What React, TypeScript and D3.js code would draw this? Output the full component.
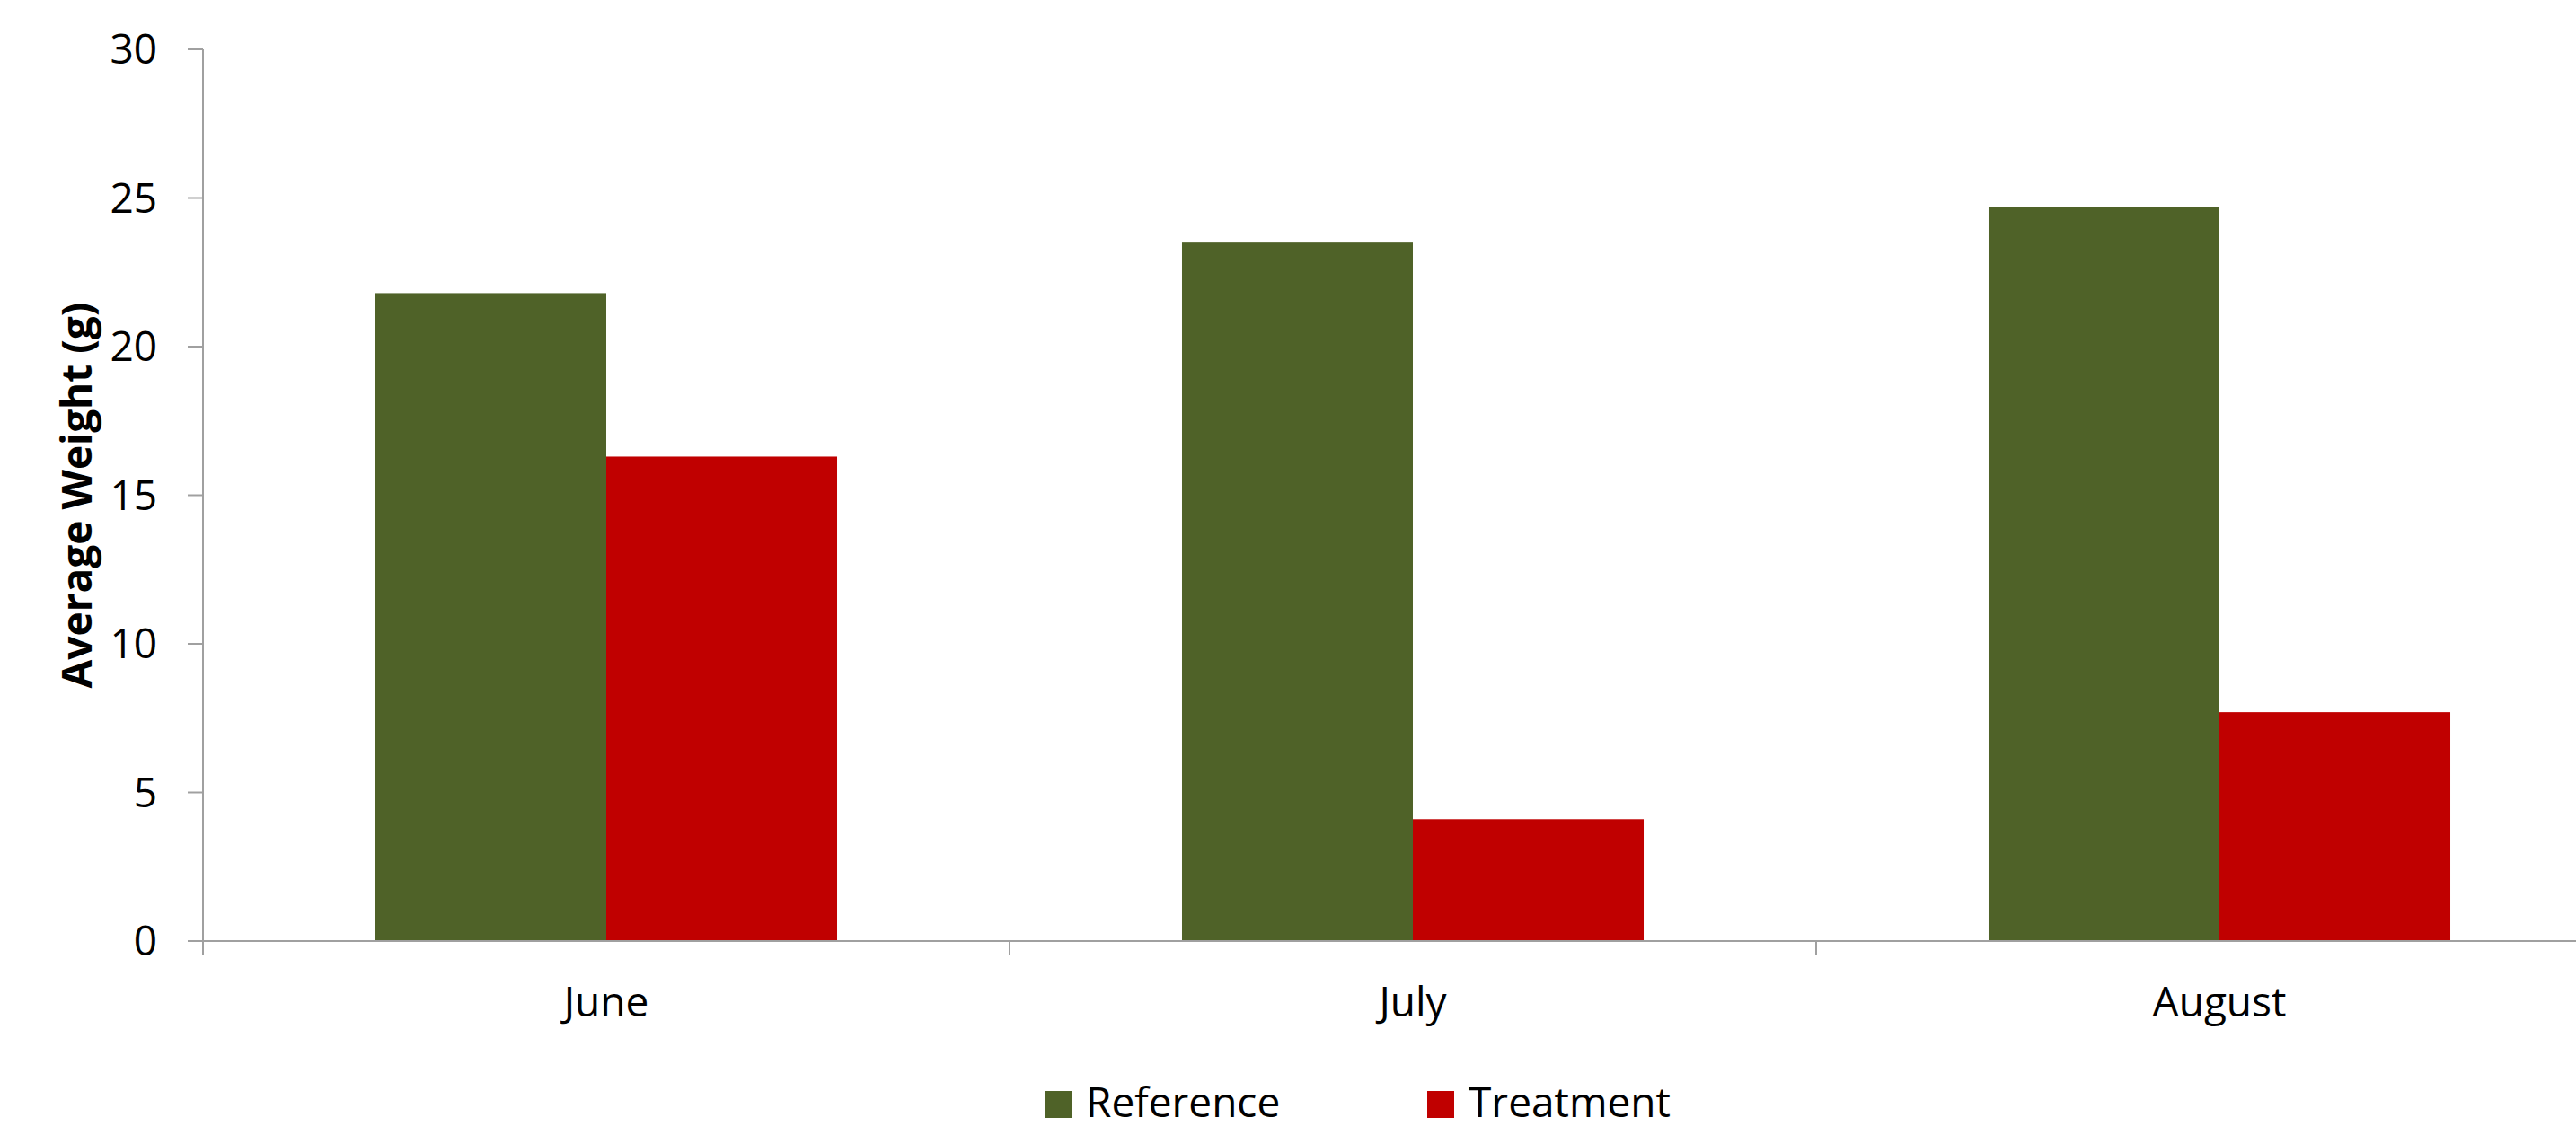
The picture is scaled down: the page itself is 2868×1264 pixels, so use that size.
import React, { useEffect } from 'react';
import * as d3 from 'd3';

const categories = ['June', 'July', 'August'];
const seriesNames = ['Reference', 'Treatment'];
const referenceValues = [21.8, 23.5, 24.7];
const treatmentValues = [16.3, 4.1, 7.7];
const yTicks = [0, 5, 10, 15, 20, 25, 30];
const seriesColors = ['#4F6228', '#C00000'];

const W = 2868;
const H = 1264;
const FONT = "'Open Sans', 'Noto Sans', sans-serif";
const AXIS = '#A0A0A0';

export default function App() {
  useEffect(() => {
    document.body.style.margin = '0';
    document.body.style.overflow = 'hidden';
  }, []);

  const y = d3.scaleLinear().domain([0, 30]).range([1048, 55]);
  const x0 = d3.scaleBand<string>().domain(categories).range([226, 2920]).paddingInner(0).paddingOuter(0);
  const x1 = d3.scaleBand<string>().domain(seriesNames).range([0, x0.bandwidth()]).paddingInner(0).paddingOuter(0.747);

  const values = [referenceValues, treatmentValues];
  const boundaries = [...categories.map((c) => x0(c) as number), 2920];

  return (
    <svg width={W} height={H} style={{ position: 'absolute', left: 0, top: 0, background: '#fff' }} fontFamily={FONT}>
      <rect x={0} y={0} width={W} height={H} fill="#fff" />
      {/* bars */}
      {categories.map((c, ci) =>
        seriesNames.map((s, si) => {
          const v = values[si][ci];
          const bx = (x0(c) as number) + (x1(s) as number);
          return (
            <rect
              key={c + s}
              x={bx}
              y={y(v)}
              width={x1.bandwidth()}
              height={y(0) - y(v)}
              fill={seriesColors[si]}
            />
          );
        })
      )}
      {/* y axis */}
      <line x1={226} x2={226} y1={y(30)} y2={1064} stroke={AXIS} strokeWidth={2} />
      {yTicks.map((t) => (
        <g key={t}>
          <line x1={209} x2={226} y1={y(t)} y2={y(t)} stroke={AXIS} strokeWidth={2} />
          <text x={175} y={y(t) + 16} textAnchor="end" fontSize={46} fill="#000">
            {t}
          </text>
        </g>
      ))}
      {/* x axis */}
      <line x1={226} x2={2920} y1={y(0)} y2={y(0)} stroke={AXIS} strokeWidth={2} />
      {boundaries.map((b, i) => (
        <line key={i} x1={b} x2={b} y1={y(0)} y2={1064} stroke={AXIS} strokeWidth={2} />
      ))}
      {categories.map((c) => (
        <text key={c} x={(x0(c) as number) + x0.bandwidth() / 2} y={1132} textAnchor="middle" fontSize={46} fill="#000">
          {c}
        </text>
      ))}
      {/* y label */}
      <text
        transform={`translate(102, ${(y(0) + y(30)) / 2}) rotate(-90)`}
        textAnchor="middle"
        fontSize={46}
        fontWeight="bold"
        fill="#000"
      >
        Average Weight (g)
      </text>
      {/* legend */}
      {seriesNames.map((s, si) => {
        const lx = [1163, 1589][si];
        return (
          <g key={s}>
            <rect x={lx} y={1215} width={30} height={30} fill={seriesColors[si]} />
            <text x={lx + 46} y={1244} fontSize={46} fill="#000">
              {s}
            </text>
          </g>
        );
      })}
    </svg>
  );
}
